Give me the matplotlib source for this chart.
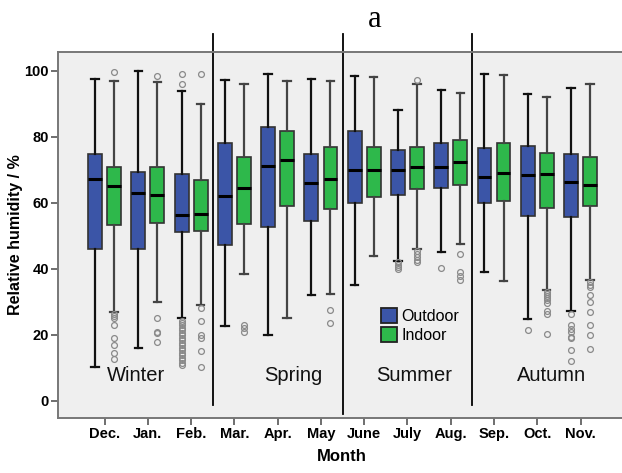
import matplotlib
matplotlib.use('Agg')
import matplotlib.pyplot as plt
from matplotlib.patches import Patch
import numpy as np

plt.rcParams['font.family'] = ['Liberation Sans', 'DejaVu Sans']

months = ['Dec.', 'Jan.', 'Feb.', 'Mar.', 'Apr.', 'May', 'June', 'July', 'Aug.', 'Sep.', 'Oct.', 'Nov.']

# outdoor relative humidity, box statistics per month
out_lo = [10.1, 16, 24.9, 22.5, 20, 32, 35, 42.4, 44.9, 39, 24.8, 27.1]
out_q1 = [45.9, 45.8, 51.1, 47, 52.7, 54.4, 59.8, 62.4, 64.5, 59.9, 55.9, 55.7]
out_med = [67, 62.8, 56.3, 62, 71.2, 66, 70, 70, 70.9, 67.8, 68.2, 66.3]
out_q3 = [74.8, 69.2, 68.6, 77.9, 82.8, 74.8, 81.8, 75.8, 77.9, 76.5, 77, 74.8]
out_hi = [97.5, 99.8, 93.8, 97.1, 98.8, 97.5, 98.3, 88.1, 94, 99, 92.9, 94.8]
out_fliers = [
    [],
    [],
    [98.9, 96, 24.2, 23.5, 22.8, 22, 21.3, 20.5, 19.8, 19, 18.3, 17.5, 16.8,
     16, 15.3, 14.5, 13.8, 13, 12.3, 11.5, 10.9],
    [],
    [],
    [],
    [],
    [41.9, 41.1, 40.4, 39.8],
    [40.1],
    [],
    [21.4],
    [26.3, 23, 21.6, 20.7, 19.4, 18.9, 15.2, 12.1],
]

# indoor relative humidity
in_lo = [27, 30, 29, 38.3, 25, 32.4, 43.9, 46, 47.3, 36.1, 33.6, 36.4]
in_q1 = [53.1, 53.7, 51.3, 53.6, 59, 58, 61.7, 64.1, 65.2, 60.4, 58.3, 59]
in_med = [64.9, 62.4, 56.5, 64.4, 72.9, 67, 70, 70.9, 72.3, 69, 68.8, 65.2]
in_q3 = [70.9, 70.9, 66.8, 73.9, 81.8, 76.9, 76.9, 76.9, 78.9, 78.1, 75.1, 73.8]
in_hi = [96.8, 96.5, 89.9, 96, 96.8, 96.8, 97.9, 95.9, 93.2, 98.5, 91.9, 96]
in_fliers = [
    [99.7, 26.3, 25.5, 25.1, 22.9, 19, 17, 14.3, 12.6],
    [98.4, 25.1, 20.7, 20.4, 17.7],
    [98.9, 28, 24, 20, 19, 15, 10.1],
    [22.9, 21.9, 20.9],
    [],
    [27.5, 23.4],
    [],
    [97.2, 45.2, 44.4, 43.6, 42.7, 42.1],
    [44.4, 38.9, 37.7, 36.6],
    [],
    [32.8, 32.4, 31.8, 31.2, 30.6, 29.7, 27.3, 26.2, 20.1],
    [35.8, 35, 34.3, 32.1, 30, 27, 22.9, 20, 15.7],
]

seasons = ['Winter', 'Spring', 'Summer', 'Autumn']
season_x = [0.72, 4.36, 7.15, 10.33]
season_breaks = [2.5, 5.5, 8.5]

blue = '#3b55a7'
green = '#2eb84b'


def make_stats(lo, q1, med, q3, hi, fl):
    return [dict(whislo=a, q1=b, med=c, q3=d, whishi=e, fliers=f)
            for a, b, c, d, e, f in zip(lo, q1, med, q3, hi, fl)]


def draw(ax, stats, pos, face, wcol):
    ax.bxp(stats, positions=pos, widths=0.32, capwidths=0.17, patch_artist=True,
           boxprops=dict(facecolor=face, edgecolor='#333333', linewidth=1.2),
           medianprops=dict(color='black', linewidth=2.2),
           whiskerprops=dict(color=wcol, linewidth=1.6),
           capprops=dict(color=wcol, linewidth=1.6),
           flierprops=dict(marker='o', markerfacecolor='none', markeredgecolor='#8a8a8a',
                           markersize=4.2, markeredgewidth=0.9))


fig = plt.figure(figsize=(6.22, 4.73), dpi=100)
# frame runs off the right edge of the figure
ax = fig.add_axes([0.093, 0.116, 0.912, 0.774])
ax.set_facecolor('#efefef')

x = np.arange(len(months))
draw(ax, make_stats(out_lo, out_q1, out_med, out_q3, out_hi, out_fliers), x - 0.22, blue, '#111111')
draw(ax, make_stats(in_lo, in_q1, in_med, in_q3, in_hi, in_fliers), x + 0.22, green, '#444444')

ax.set_xlim(-1.08, 12.03)
ax.set_ylim(-5.3, 105.6)
ax.set_xticks(x)
ax.set_xticklabels(months, fontsize=10.5, fontweight='bold')
ax.set_yticks([0, 20, 40, 60, 80, 100])
ax.set_yticklabels(['0', '20', '40', '60', '80', '100'], fontsize=10.5, fontweight='bold')
ax.tick_params(length=5, width=1.2, color='#555555', pad=1.5)

for side in ['left', 'bottom', 'top', 'right']:
    ax.spines[side].set_color('#777777')
    ax.spines[side].set_linewidth(1.4)

# season separators run up past the frame
for i, b in enumerate(season_breaks):
    bottom = -4 if i == 1 else -1.3
    ax.plot([b, b], [bottom, 111.2], color='black', linewidth=1.3, clip_on=False)

for name, sx in zip(seasons, season_x):
    ax.text(sx, 7.5, name, fontsize=14.5, ha='center', va='center', color='#111111')

handles = [Patch(facecolor=blue, edgecolor='#222222', linewidth=1.3, label='Outdoor'),
           Patch(facecolor=green, edgecolor='#222222', linewidth=1.3, label='Indoor')]
ax.legend(handles=handles, loc='center left', bbox_to_anchor=(0.57, 0.253), frameon=False,
          fontsize=11.5, handlelength=1.0, handleheight=1.05, handletextpad=0.27,
          labelspacing=0.2, borderaxespad=0, borderpad=0)

ax.set_xlabel('Month', fontsize=12, fontweight='bold', labelpad=6)
ax.set_ylabel('Relative humidity / %', fontsize=11.5, fontweight='bold')
ax.yaxis.set_label_coords(-0.061, 0.5)

fig.text(0.603, 0.958, 'a', fontsize=22, family='Liberation Serif', ha='center', va='center')

fig.savefig('out.png', dpi=100)
